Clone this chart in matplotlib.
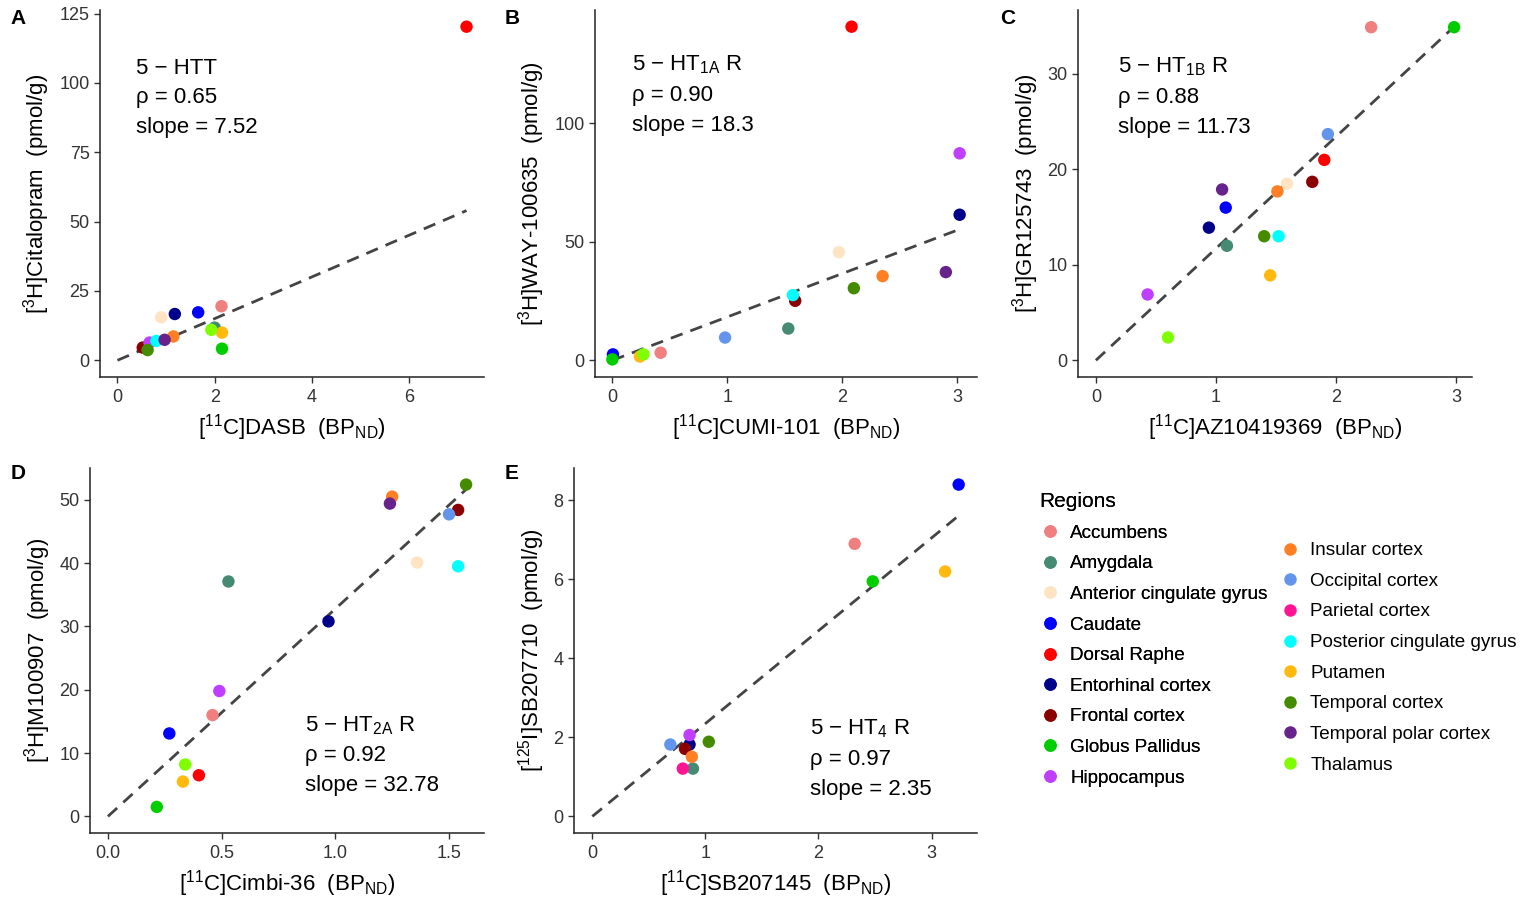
import matplotlib
matplotlib.use("Agg")
import matplotlib.pyplot as plt
from matplotlib.lines import Line2D
from matplotlib.ticker import FormatStrFormatter

plt.rcParams["font.family"] = ["Liberation Sans", "DejaVu Sans"]
plt.rcParams["mathtext.fontset"] = "custom"
plt.rcParams["mathtext.rm"] = "Liberation Sans"
plt.rcParams["mathtext.it"] = "Liberation Sans:italic"
plt.rcParams["mathtext.default"] = "regular"

regions = ["Accumbens", "Amygdala", "Anterior cingulate gyrus", "Caudate", "Dorsal Raphe",
           "Entorhinal cortex", "Frontal cortex", "Globus Pallidus", "Hippocampus",
           "Insular cortex", "Occipital cortex", "Parietal cortex", "Posterior cingulate gyrus",
           "Putamen", "Temporal cortex", "Temporal polar cortex", "Thalamus"]
region_colors = ["#F08080", "#458B74", "#FFE4C4", "#0000FF", "#FF0000",
                 "#00008B", "#8B0000", "#00CD00", "#BF3EFF",
                 "#FF7F24", "#6495ED", "#FF1493", "#00FFFF",
                 "#FFB90F", "#458B00", "#68228B", "#7FFF00"]
color_of = dict(zip(regions, region_colors))

# A: 5-HTT
a_regions = ["Accumbens", "Amygdala", "Anterior cingulate gyrus", "Caudate", "Dorsal Raphe",
             "Entorhinal cortex", "Frontal cortex", "Globus Pallidus", "Hippocampus",
             "Insular cortex", "Posterior cingulate gyrus", "Putamen", "Temporal cortex",
             "Temporal polar cortex", "Thalamus"]
a_dasb = [2.14, 2.00, 0.90, 1.66, 7.18, 1.18, 0.52, 2.15, 0.66, 1.15, 0.80, 2.15, 0.62, 0.97, 1.93]
a_citalopram = [19.5, 11.8, 15.5, 17.3, 120.3, 16.7, 4.6, 4.2, 6.4, 8.6, 7.0, 10.0, 3.7, 7.4, 11.0]

# B: 5-HT1A
b_regions = ["Accumbens", "Amygdala", "Anterior cingulate gyrus", "Caudate", "Dorsal Raphe",
             "Entorhinal cortex", "Frontal cortex", "Globus Pallidus", "Hippocampus",
             "Insular cortex", "Occipital cortex", "Posterior cingulate gyrus", "Putamen",
             "Temporal cortex", "Temporal polar cortex", "Thalamus"]
b_cumi = [0.42, 1.53, 1.97, 0.005, 2.08, 3.02, 1.59, 0.0, 3.02, 2.35, 0.98, 1.57, 0.24, 2.10, 2.90, 0.27]
b_way = [3.2, 13.4, 45.6, 2.5, 140.7, 61.4, 25.1, 0.4, 87.3, 35.5, 9.6, 27.5, 1.6, 30.4, 37.2, 2.5]

# C: 5-HT1B
c_regions = ["Accumbens", "Amygdala", "Anterior cingulate gyrus", "Caudate", "Dorsal Raphe",
             "Entorhinal cortex", "Frontal cortex", "Globus Pallidus", "Hippocampus",
             "Insular cortex", "Occipital cortex", "Posterior cingulate gyrus", "Putamen",
             "Temporal cortex", "Temporal polar cortex", "Thalamus"]
c_az = [2.29, 1.09, 1.59, 1.08, 1.90, 0.94, 1.80, 2.98, 0.43, 1.51, 1.93, 1.52, 1.45, 1.40, 1.05, 0.60]
c_gr = [34.9, 12.0, 18.5, 16.0, 21.0, 13.9, 18.7, 34.9, 6.9, 17.7, 23.7, 13.0, 8.9, 13.0, 17.9, 2.4]

# D: 5-HT2A
d_regions = ["Accumbens", "Amygdala", "Anterior cingulate gyrus", "Caudate", "Dorsal Raphe",
             "Entorhinal cortex", "Frontal cortex", "Globus Pallidus", "Hippocampus",
             "Insular cortex", "Occipital cortex", "Posterior cingulate gyrus", "Putamen",
             "Temporal cortex", "Temporal polar cortex", "Thalamus"]
d_cimbi = [0.46, 0.53, 1.36, 0.27, 0.40, 0.97, 1.54, 0.215, 0.49, 1.25, 1.50, 1.54, 0.33, 1.575, 1.24, 0.34]
d_m100907 = [16.0, 37.1, 40.1, 13.1, 6.5, 30.8, 48.4, 1.5, 19.8, 50.5, 47.7, 39.5, 5.5, 52.4, 49.4, 8.2]

# E: 5-HT4
e_regions = ["Accumbens", "Amygdala", "Caudate", "Entorhinal cortex", "Frontal cortex",
             "Globus Pallidus", "Hippocampus", "Insular cortex", "Occipital cortex",
             "Parietal cortex", "Putamen", "Temporal cortex"]
e_sb145 = [2.32, 0.89, 3.24, 0.86, 0.82, 2.48, 0.86, 0.88, 0.69, 0.80, 3.12, 1.03]
e_sb710 = [6.9, 1.21, 8.4, 1.82, 1.71, 5.95, 2.06, 1.51, 1.82, 1.21, 6.2, 1.89]

W, H = 1525, 898


def draw_panel(rect, names, x, y, slope, lines, text_xy, xlabel, ylabel, xticks, yticks, letter, letter_xy, fmt=None):
    l, t, r, b = rect
    ax = fig.add_axes([l / W, 1 - b / H, (r - l) / W, (b - t) / H])
    xmax = max(x)
    ax.plot([0, xmax], [0, slope * xmax], color="#444444", lw=2.0, dashes=(4.5, 3))
    ax.scatter(x, y, c=[color_of[n] for n in names], s=80, linewidths=0, zorder=3)
    ax.margins(0.05)
    ax.set_xticks(xticks)
    ax.set_yticks(yticks)
    if fmt:
        ax.xaxis.set_major_formatter(FormatStrFormatter(fmt))
    for s in ["top", "right"]:
        ax.spines[s].set_visible(False)
    for s in ["left", "bottom"]:
        ax.spines[s].set_linewidth(1.1)
        ax.spines[s].set_color("#222222")
    ax.tick_params(labelsize=13, labelcolor="#333333", length=4, width=1.0, color="#333333")
    ax.tick_params(axis="x", pad=5)
    ax.set_xlabel(xlabel, fontsize=16, labelpad=4)
    ax.set_ylabel(ylabel, fontsize=16, labelpad=5)
    tx, ty = text_xy
    for i, s in enumerate(lines):
        fig.text(tx / W, 1 - (ty + i * 30) / H, s, fontsize=16, va="center", ha="left")
    fig.text(letter_xy[0] / W, 1 - letter_xy[1] / H, letter, fontsize=15, fontweight="bold",
             ha="center", va="center")
    return ax


fig = plt.figure(figsize=(W / 100, H / 100), dpi=100)

draw_panel((100, 10, 484, 377), a_regions, a_dasb, a_citalopram, 7.52,
           ["5 − HTT", "ρ = 0.65", "slope = 7.52"], (136, 68),
           "[$^{11}$C]DASB  (BP$_{ND}$)", "[$^{3}$H]Citalopram  (pmol/g)",
           [0, 2, 4, 6], [0, 25, 50, 75, 100, 125], "A", (18, 18))
draw_panel((595, 10, 977, 377), b_regions, b_cumi, b_way, 18.3,
           ["5 − HT$_{1A}$ R", "ρ = 0.90", "slope = 18.3"], (632, 65),
           "[$^{11}$C]CUMI-101  (BP$_{ND}$)", "[$^{3}$H]WAY-100635  (pmol/g)",
           [0, 1, 2, 3], [0, 50, 100], "B", (512, 18))
draw_panel((1078, 10, 1472, 377), c_regions, c_az, c_gr, 11.73,
           ["5 − HT$_{1B}$ R", "ρ = 0.88", "slope = 11.73"], (1118, 67),
           "[$^{11}$C]AZ10419369  (BP$_{ND}$)", "[$^{3}$H]GR125743  (pmol/g)",
           [0, 1, 2, 3], [0, 10, 20, 30], "C", (1008, 18))
draw_panel((90, 468, 484, 833), d_regions, d_cimbi, d_m100907, 32.78,
           ["5 − HT$_{2A}$ R", "ρ = 0.92", "slope = 32.78"], (305, 726),
           "[$^{11}$C]Cimbi-36  (BP$_{ND}$)", "[$^{3}$H]M100907  (pmol/g)",
           [0, 0.5, 1, 1.5], [0, 10, 20, 30, 40, 50], "D", (18, 474), fmt="%.1f")
draw_panel((574, 468, 977, 833), e_regions, e_sb145, e_sb710, 2.35,
           ["5 − HT$_{4}$ R", "ρ = 0.97", "slope = 2.35"], (810, 729),
           "[$^{11}$C]SB207145  (BP$_{ND}$)", "[$^{125}$I]SB207710  (pmol/g)",
           [0, 1, 2, 3], [0, 2, 4, 6, 8], "E", (512, 474))


def handles(names):
    return [Line2D([], [], marker="o", ls="", markersize=9, markeredgewidth=0,
                   color=color_of[n], label=n) for n in names]


leg1 = fig.legend(handles=handles(regions[:9]), loc="upper left", bbox_to_anchor=(1022 / W, 1 - 475 / H),
                  frameon=False, fontsize=13.6, title="Regions", title_fontsize=15,
                  labelspacing=0.71, handletextpad=0.45, handlelength=1.2, alignment="left")
fig.add_artist(leg1)
fig.legend(handles=handles(regions[9:]), loc="upper left", bbox_to_anchor=(1262 / W, 1 - 525 / H),
           frameon=False, fontsize=13.6, labelspacing=0.71, handletextpad=0.45, handlelength=1.2)

fig.savefig("out.png", dpi=100)
